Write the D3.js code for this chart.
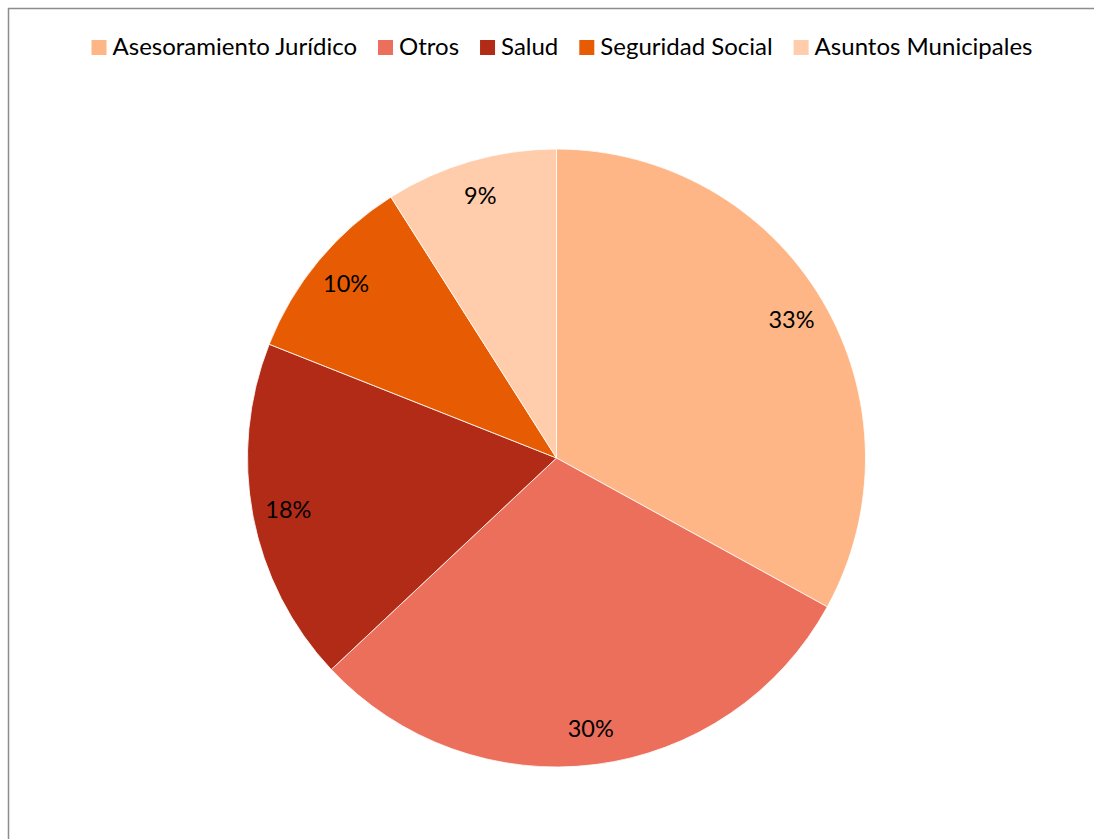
<!DOCTYPE html>
<html>
<head>
<meta charset="utf-8">
<script src="https://cdn.jsdelivr.net/npm/d3@7"></script>
<style>
  html, body { margin: 0; padding: 0; background: #fff; }
  svg { display: block; }
</style>
</head>
<body>
<svg id="chart" width="1094" height="839"></svg>
<script>
// Consultation topics and their share (%)
const categories = ["Asesoramiento Jurídico", "Otros", "Salud", "Seguridad Social", "Asuntos Municipales"];
const values = [33, 30, 18, 10, 9];
const colors = ["#FFB686", "#EC6F5C", "#B22B17", "#E75C03", "#FFCDAC"];

const W = 1094, H = 839;
const svg = d3.select("#chart");
const FONT = "Lato, 'Open Sans', sans-serif";

// Outer frame (runs off the right and bottom edges)
svg.append("rect")
  .attr("x", 8.5).attr("y", 8.5)
  .attr("width", W + 20).attr("height", H + 20)
  .attr("fill", "none").attr("stroke", "#8c8c8c").attr("stroke-width", 1.5);

// Pie
const cx = 556.5, cy = 458, radius = 309;
const color = d3.scaleOrdinal().domain(categories).range(colors);
const pie = d3.pie().sort(null).value(d => d.value);
const data = categories.map((c, i) => ({ name: c, value: values[i] }));
const arcs = pie(data);
const arc = d3.arc().innerRadius(0).outerRadius(radius);
const labelArc = d3.arc().innerRadius(273).outerRadius(273);

const g = svg.append("g").attr("transform", `translate(${cx},${cy})`);
g.selectAll("path.slice")
  .data(arcs)
  .join("path")
  .attr("class", "slice")
  .attr("d", arc)
  .attr("fill", d => color(d.data.name))
  .attr("stroke", "#fff")
  .attr("stroke-width", 0.8);

const total = d3.sum(values);
g.selectAll("text.pct")
  .data(arcs)
  .join("text")
  .attr("class", "pct")
  .attr("transform", d => `translate(${labelArc.centroid(d)})`)
  .attr("text-anchor", "middle")
  .attr("dy", "0.36em")
  .attr("font-family", FONT)
  .attr("font-size", 23.5)
  .attr("fill", "#000")
  .text(d => Math.round(d.data.value / total * 100) + "%");

// Legend across the top
const legend = svg.append("g");
const fs = 24, sw = 15, gapSwatch = 6, gapItem = 21;
const items = legend.selectAll("g.item")
  .data(categories)
  .join("g")
  .attr("class", "item");
items.append("rect")
  .attr("width", sw).attr("height", sw)
  .attr("y", 40)
  .attr("fill", d => color(d));
items.append("text")
  .attr("x", sw + gapSwatch)
  .attr("y", 55)
  .attr("font-family", FONT)
  .attr("font-size", fs)
  .attr("fill", "#000")
  .text(d => d);
let x = 0;
items.each(function () {
  const w = sw + gapSwatch + d3.select(this).select("text").node().getComputedTextLength();
  d3.select(this).attr("transform", `translate(${x},0)`);
  x += w + gapItem;
});
const legendW = x - gapItem;
legend.attr("transform", `translate(${(84 + 1040) / 2 - legendW / 2},0)`);
</script>
</body>
</html>
